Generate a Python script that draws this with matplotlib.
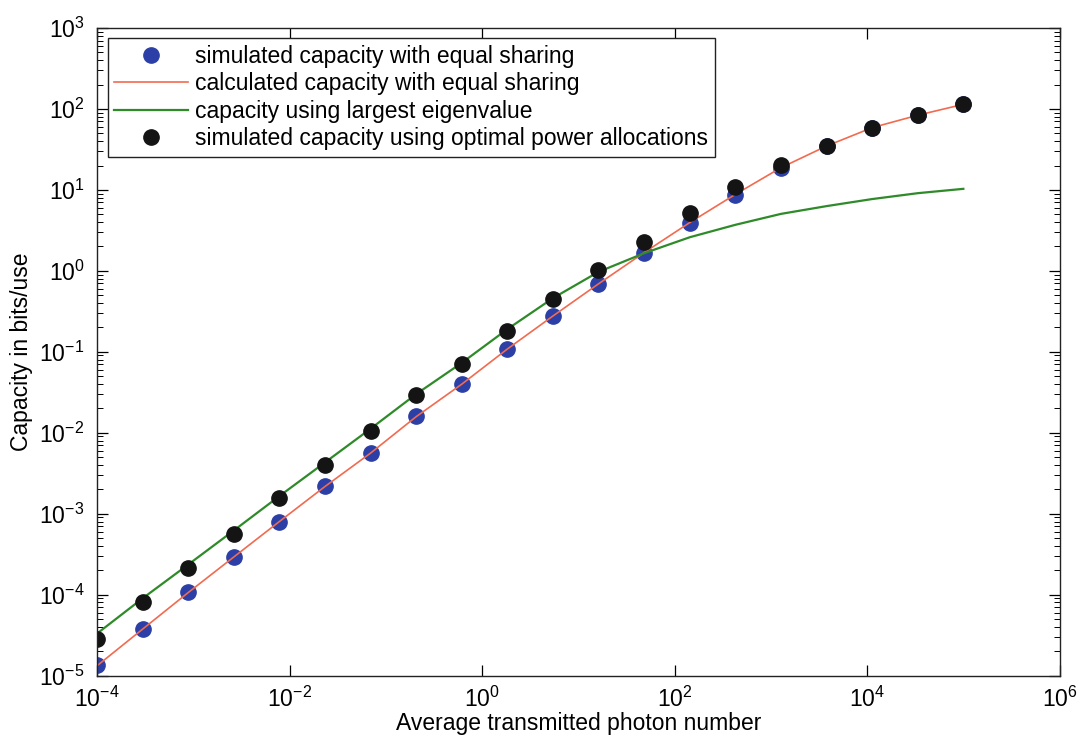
import numpy as np
import matplotlib.pyplot as plt
from matplotlib.ticker import LogLocator, NullLocator

plt.rcParams['font.family'] = ['Liberation Sans', 'DejaVu Sans']
plt.rcParams['mathtext.fontset'] = 'custom'
plt.rcParams['mathtext.rm'] = 'Liberation Sans'

# average transmitted photon number (20 log-spaced points)
photons = [1.0e-4, 2.98e-4, 8.86e-4, 2.64e-3, 7.85e-3, 2.34e-2, 6.95e-2, 0.207,
           0.616, 1.83, 5.46, 16.2, 48.3, 144, 428, 1274, 3793, 11288, 33598, 1.0e5]

# simulated capacity, equal sharing (blue dots)
sim_equal = [1.34e-5, 3.77e-5, 1.07e-4, 2.92e-4, 8.0e-4, 2.18e-3, 5.6e-3, 1.59e-2,
             3.99e-2, 0.109, 0.278, 0.68, 1.65, 3.88, 8.67, 18.5, 34.5, 58.5, 83.5, 114]

# calculated capacity, equal sharing (red line)
calc_equal = [1.32e-5, 3.75e-5, 1.06e-4, 2.92e-4, 8.0e-4, 2.17e-3, 5.6e-3, 1.58e-2,
              3.98e-2, 0.108, 0.277, 0.69, 1.68, 3.95, 8.8, 18.8, 34.8, 58.7, 83.6, 114]

# capacity using largest eigenvalue (green line)
largest_eig = [3.3e-5, 9.0e-5, 2.35e-4, 6.2e-4, 1.65e-3, 4.3e-3, 1.12e-2, 3.0e-2,
               7.3e-2, 0.19, 0.46, 0.97, 1.65, 2.6, 3.7, 5.05, 6.3, 7.7, 9.1, 10.3]

# simulated capacity, optimal power allocation (black dots)
sim_optimal = [2.86e-5, 8.03e-5, 2.13e-4, 5.66e-4, 1.56e-3, 4.03e-3, 1.06e-2, 2.94e-2,
               7.05e-2, 0.183, 0.447, 1.03, 2.3, 5.25, 10.7, 20.4, 34.9, 58.7, 83.6, 114]

x_ticks = [1e-4, 1e-2, 1e0, 1e2, 1e4, 1e6]
y_ticks = [1e-5, 1e-4, 1e-3, 1e-2, 1e-1, 1e0, 1e1, 1e2, 1e3]

fig = plt.figure(figsize=(10.84, 7.44), dpi=100)
ax = fig.add_axes([0.0895, 0.092, 0.888, 0.8704])

ax.plot(photons, sim_equal, 'o', color='#2b3fa6', markersize=11, label='simulated capacity with equal sharing')
ax.plot(photons, calc_equal, '-', color='#f26a4f', linewidth=1.2, label='calculated capacity with equal sharing')
ax.plot(photons, largest_eig, '-', color='#2f8a2a', linewidth=1.6, label='capacity using largest eigenvalue')
ax.plot(photons, sim_optimal, 'o', color='#141414', markersize=11, label='simulated capacity using optimal power allocations')

ax.set_xscale('log')
ax.set_yscale('log')
ax.set_xlim(1e-4, 1e6)
ax.set_ylim(1e-5, 1e3)

ax.set_xticks(x_ticks)
ax.xaxis.set_minor_locator(NullLocator())
ax.set_yticks(y_ticks)
ax.yaxis.set_minor_locator(LogLocator(base=10, subs=np.arange(2, 10), numticks=20))
ax.set_ylim(1e-5, 1e3)

ax.tick_params(which='both', direction='in', top=True, right=True, labelsize=16.5)
ax.tick_params(which='major', length=8, width=0.9)
ax.tick_params(which='minor', length=4, width=0.7)
ax.tick_params(axis='x', pad=8)
ax.tick_params(axis='y', pad=9)
for s in ax.spines.values():
    s.set_linewidth(1.0)
    s.set_color('#222222')

ax.set_xlabel('Average transmitted photon number', fontsize=16.5, labelpad=0)
ax.set_ylabel('Capacity in bits/use', fontsize=16.5, labelpad=4)

leg = ax.legend(loc='upper left', bbox_to_anchor=(0.011, 0.985), fontsize=16.5,
                frameon=True, fancybox=False, edgecolor='#222222', framealpha=1,
                handlelength=3.2, handletextpad=0.3, borderpad=0.3, labelspacing=0.2,
                borderaxespad=0)
leg.get_frame().set_linewidth(1.0)

fig.savefig('out.png', dpi=100)
